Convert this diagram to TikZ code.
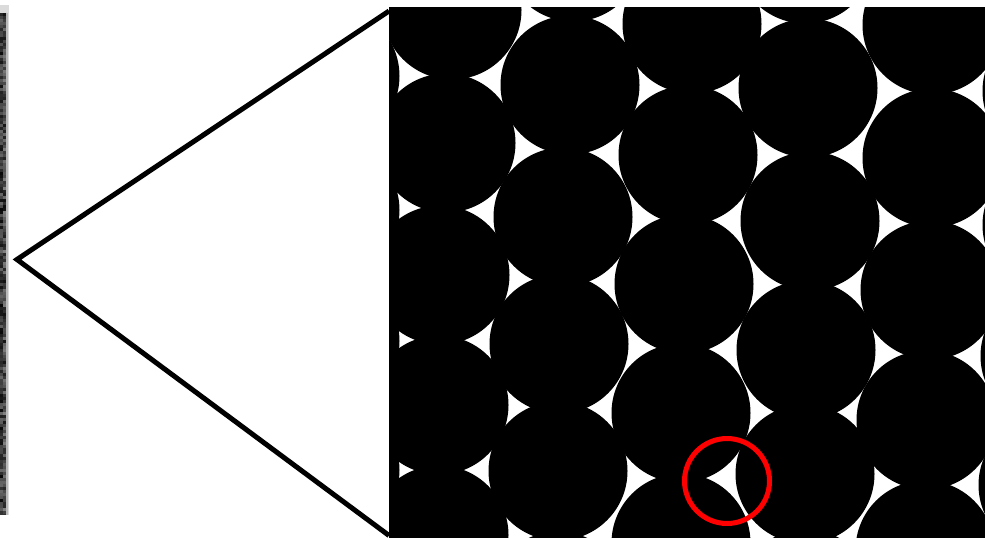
\documentclass[tikz,border=0pt]{standalone}
\begin{document}
\begin{tikzpicture}[x=1pt,y=-1pt,
  zoomline/.style={line width=5pt,black,miter limit=10},
  disc/.style={fill=black},
  marker/.style={draw=red,line width=5pt}]
\useasboundingbox (0,0) rectangle (985,538);
\fill[white] (0,0) rectangle (985,538);
% textured strip at the left edge
\fill[black!14] (0,5) rectangle (9,515);
\fill[black!80] (0,13) rectangle (6,515);
\pgfmathsetseed{11}
\foreach \yy in {13,16,...,511} {
  \pgfmathtruncatemacro\ga{60+38*rnd}
  \pgfmathtruncatemacro\gb{50+45*rnd}
  \fill[black!\ga] (0,\yy) rectangle (3,\yy+3);
  \fill[black!\gb] (3,\yy) rectangle (6,\yy+3);
}
\fill[black!28] (6,13) rectangle (7.5,515);
% named points
\coordinate (apex) at (17,259.5);
\coordinate (topend) at (389,11);
\coordinate (botend) at (389,535.5);
\coordinate (sqA) at (389,7);
\coordinate (sqB) at (985,538);
% packed discs in the square
\begin{scope}
\clip (sqA) rectangle (sqB);
\fill[white] (sqA) rectangle (sqB);
\foreach \cx/\cy in {
  330/-56, 330/76, 330/210, 330/341, 330/470, 330/600,
  452/10, 446/143, 440/275, 439/405, 439/535,
  573/-48, 570/85, 563/217, 559/344, 558/471, 558/601,
  692/24, 688/155, 684/284, 681/413, 681/543,
  805/-46, 808/88, 810/221, 806/350, 805/474, 806/599,
  932/25, 932/158, 930/290, 926/420, 925/550,
  1052/-40, 1052/91, 1052/225, 1050/356, 1048/485, 1048/615}
  \fill[disc] (\cx,\cy) circle[radius=69.5];
\end{scope}
% zoom lines
\draw[zoomline] (topend) -- (apex) -- (botend);
% red marker
\coordinate (mark) at (727,481);
\draw[marker] (mark) circle[radius=42.5];
\end{tikzpicture}
\end{document}
